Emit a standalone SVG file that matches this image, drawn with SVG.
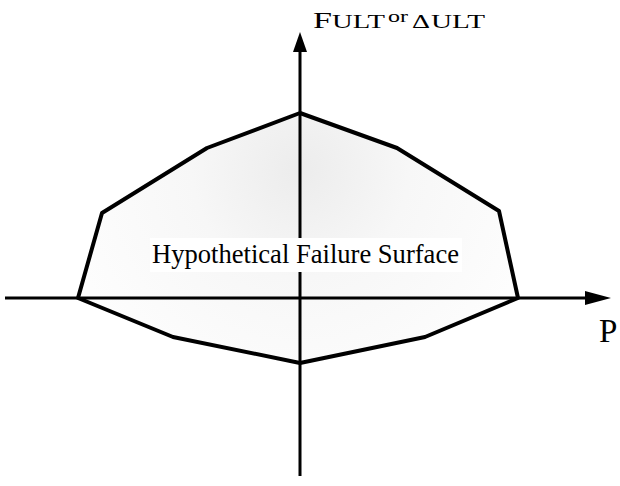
<svg xmlns="http://www.w3.org/2000/svg" width="620" height="486" viewBox="0 0 620 486">
<style>
.ax{stroke:#000;stroke-width:3;fill:none}
.surf{stroke:#000;stroke-width:4;stroke-linejoin:round}
.t{font-family:"Liberation Serif","Times New Roman",serif;fill:#000}
</style>
<defs>
<radialGradient id="g" cx="300" cy="170" r="240" gradientUnits="userSpaceOnUse">
<stop offset="0" stop-color="#ececec"/>
<stop offset="0.45" stop-color="#f7f7f7"/>
<stop offset="1" stop-color="#fdfdfd"/>
</radialGradient>
</defs>
<rect width="620" height="486" fill="#fff"/>
<g id="surface">
<polygon class="surf" fill="url(#g)" points="300,113 397,148 499,211 518,298 425,337 300,363 173,337 78,298 102,213 207,148"/>
</g>
<g id="connectors">
<line class="ax" x1="300" y1="476" x2="300" y2="50"/>
<polygon points="300,32 293,52 307,52" fill="#000"/>
<line class="ax" x1="5" y1="298" x2="590" y2="298"/>
<polygon points="611,298 585,291 585,305" fill="#000"/>
</g>
<g id="label">
<rect x="150" y="238" width="312" height="34" fill="#fff"/>
<text class="t" x="152" y="263" font-size="26.5" textLength="307" lengthAdjust="spacingAndGlyphs">Hypothetical Failure Surface</text>
</g>
<g id="yaxis-label">
<text class="t" x="313" y="28" font-size="24" textLength="19" lengthAdjust="spacingAndGlyphs">F</text>
<text class="t" x="332" y="28" font-size="19" textLength="53" lengthAdjust="spacingAndGlyphs">ULT</text>
<text class="t" x="388" y="22" font-size="17" textLength="20" lengthAdjust="spacingAndGlyphs">or</text>
<text class="t" x="412" y="28" font-size="19" textLength="18" lengthAdjust="spacingAndGlyphs">Δ</text>
<text class="t" x="431" y="28" font-size="19" textLength="54" lengthAdjust="spacingAndGlyphs">ULT</text>
</g>
<g id="xaxis-label">
<text class="t" x="599" y="342" font-size="33">P</text>
</g>
</svg>
